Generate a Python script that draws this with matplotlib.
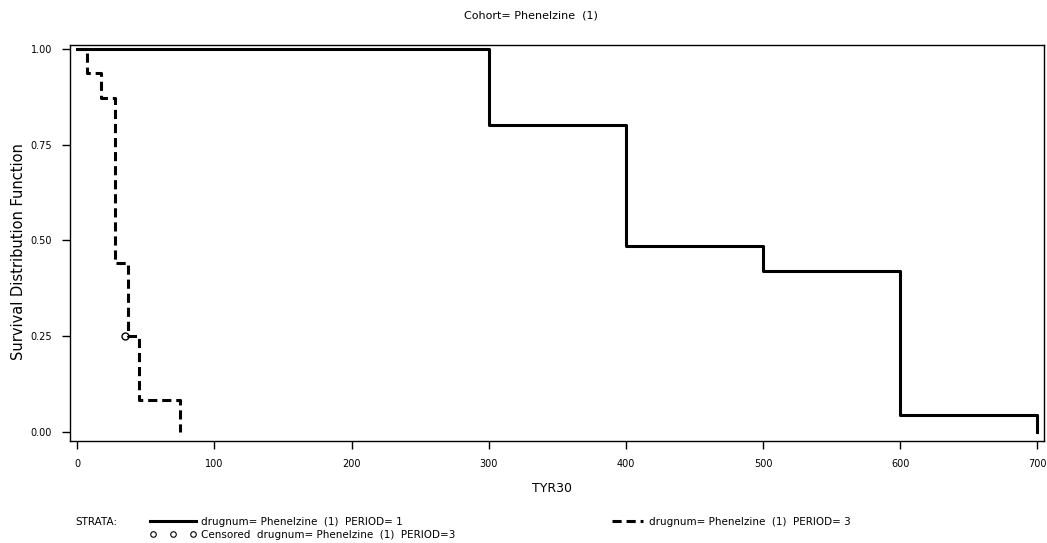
import matplotlib
matplotlib.use('Agg')
import matplotlib.pyplot as plt
from matplotlib.lines import Line2D

# Kaplan-Meier step values
period1_time = [0, 300, 400, 500, 600, 700]
period1_surv = [1.0, 0.80, 0.486, 0.42, 0.044, 0.0]

period3_time = [0, 6.7, 17.1, 27.4, 37, 45, 75]
period3_surv = [1.0, 0.936, 0.873, 0.44, 0.25, 0.083, 0.0]

censor_time = [35]
censor_surv = [0.25]

x_ticks = [0, 100, 200, 300, 400, 500, 600, 700]
y_ticks = [0.0, 0.25, 0.50, 0.75, 1.00]

label_p1 = 'drugnum= Phenelzine  (1)  PERIOD= 1'
label_p3 = 'drugnum= Phenelzine  (1)  PERIOD= 3'
label_cens = 'Censored  drugnum= Phenelzine  (1)  PERIOD=3'

fig = plt.figure(figsize=(10.47, 5.43), dpi=100)
ax = fig.add_axes([0.0669, 0.188, 0.930, 0.729])

ax.plot(period1_time, period1_surv, drawstyle='steps-post', color='black', linewidth=2.2)
ax.plot(period3_time, period3_surv, drawstyle='steps-post', color='black', linewidth=2.2,
        linestyle=(0, (3, 1.6)))
ax.plot(censor_time, censor_surv, linestyle='none', marker='o', markersize=5,
        markerfacecolor='none', markeredgecolor='black', markeredgewidth=1.0)

ax.set_xlim(-5.3, 704.6)
ax.set_ylim(-0.024, 1.01)
ax.set_xticks(x_ticks)
ax.set_yticks(y_ticks)
ax.set_yticklabels([f'{v:.2f}' for v in y_ticks])
ax.tick_params(direction='out', length=6, width=1, labelsize=7, color='black')
ax.tick_params(axis='y', pad=7)
ax.tick_params(axis='x', pad=7)

for side in ['left', 'bottom', 'top', 'right']:
    ax.spines[side].set_linewidth(1.0)
    ax.spines[side].set_color('black')

ax.set_xlabel('TYR30', fontsize=9)
ax.xaxis.set_label_coords(0.495, -0.104)
ax.set_ylabel('Survival Distribution Function', fontsize=10.5)
ax.yaxis.set_label_coords(-0.045, 0.478)

fig.text(0.507, 0.972, 'Cohort= Phenelzine  (1)', ha='center', va='center', fontsize=8)

# legend block at the bottom, drawn the way SAS lays it out
fig.text(0.072, 0.039, 'STRATA:', ha='left', va='center', fontsize=7.5)
fig.add_artist(Line2D([0.143, 0.187], [0.041, 0.041], transform=fig.transFigure,
                      color='black', linewidth=2.2))
fig.text(0.192, 0.039, label_p1, ha='left', va='center', fontsize=7.5)
fig.add_artist(Line2D([0.585, 0.614], [0.041, 0.041], transform=fig.transFigure,
                      color='black', linewidth=2.2, linestyle=(0, (3, 1.6))))
fig.text(0.620, 0.039, label_p3, ha='left', va='center', fontsize=7.5)
fig.add_artist(Line2D([0.146, 0.165, 0.184], [0.016, 0.016, 0.016], transform=fig.transFigure,
                      linestyle='none', marker='o', markersize=4, markerfacecolor='none',
                      markeredgecolor='black', markeredgewidth=0.8))
fig.text(0.192, 0.014, label_cens, ha='left', va='center', fontsize=7.5)

fig.savefig('out.png', dpi=100)
